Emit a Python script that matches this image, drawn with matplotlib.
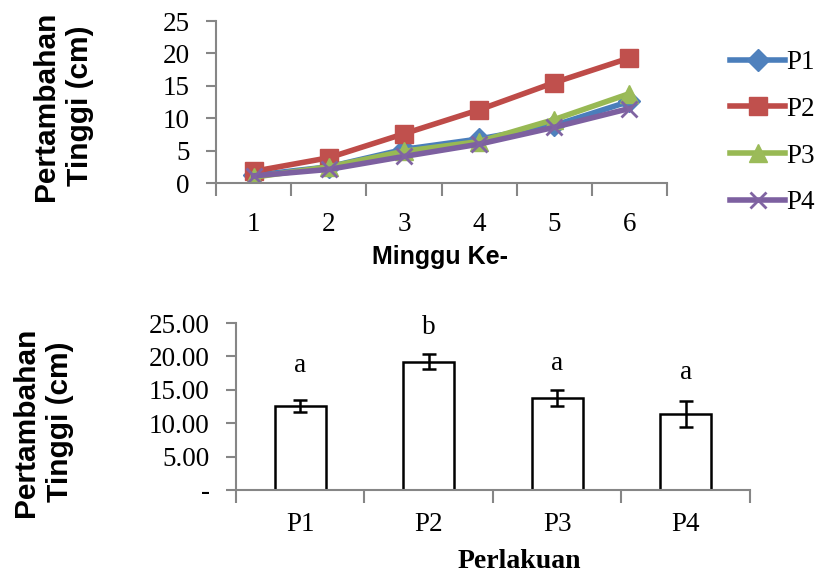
import matplotlib
matplotlib.use('Agg')
import matplotlib.pyplot as plt
from matplotlib.ticker import FuncFormatter
import numpy as np

# weekly growth (top chart)
weeks = [1, 2, 3, 4, 5, 6]
p1 = [1.2, 2.5, 5.2, 6.8, 8.9, 12.6]
p2 = [1.8, 3.9, 7.6, 11.3, 15.5, 19.3]
p3 = [0.9, 2.5, 4.9, 6.4, 9.8, 13.8]
p4 = [1.1, 2.1, 4.1, 6.0, 8.6, 11.5]

# final growth (bottom chart)
treatments = ['P1', 'P2', 'P3', 'P4']
means = [12.6, 19.2, 13.7, 11.4]
errs = [0.9, 1.1, 1.2, 1.9]
letters = ['a', 'b', 'a', 'a']

serif = 'Liberation Serif'
sans = 'Liberation Sans'
gray = '#868686'

fig = plt.figure(figsize=(8.22, 5.73), dpi=100)

# ---- top line chart
ax = fig.add_axes([0.2628, 0.6806, 0.5487, 0.2827])
series = [('P1', p1, '#4A7EBB', '#4F81BD', 'D', 11),
          ('P2', p2, '#BE4B48', '#C0504D', 's', 13),
          ('P3', p3, '#98B954', '#9BBB59', '^', 13),
          ('P4', p4, '#7D60A0', '#8064A2', 'x', 12)]
for name, vals, lc, mc, mk, ms in series:
    ax.plot(weeks, vals, color=lc, lw=4, marker=mk, ms=ms, mfc=mc, mec=mc,
            mew=2 if mk == 'x' else 1, label=name)

ax.set_xlim(0.5, 6.5)
ax.set_ylim(0, 25)
ax.set_yticks(np.arange(0, 26, 5))
ax.set_xticks(weeks)
ax.set_xticks(np.arange(0.5, 6.6, 1), minor=True)
ax.tick_params(axis='x', which='major', length=0, pad=21)
ax.tick_params(axis='x', which='minor', length=9, width=1.5, color=gray)
ax.tick_params(axis='y', length=7, width=1.5, color=gray, pad=12)
for lab in ax.get_xticklabels() + ax.get_yticklabels():
    lab.set_fontfamily(serif)
    lab.set_fontsize(19.5)
for s in ['top', 'right']:
    ax.spines[s].set_visible(False)
for s in ['left', 'bottom']:
    ax.spines[s].set_color(gray)
    ax.spines[s].set_linewidth(1.5)

leg = ax.legend(loc='upper left', bbox_to_anchor=(1.085, 0.97), frameon=False,
                prop={'family': serif, 'size': 19.5}, handlelength=2.05,
                labelspacing=0.8, handletextpad=0.05)

fig.text(440 / 822, 1 - 257 / 573, 'Minggu Ke-', family=sans, weight='bold',
         fontsize=18, ha='center', va='center')
fig.text(63 / 822, 1 - 106 / 573, 'Pertambahan\nTinggi (cm)', family=sans,
         weight='bold', fontsize=21.5, rotation=90, ha='center', va='center',
         multialignment='center', linespacing=1.25)

# ---- bottom bar chart
bx = fig.add_axes([0.2871, 0.1449, 0.6253, 0.2914])
x = np.arange(len(treatments))
bx.bar(x, means, width=0.4, color='white', edgecolor='black', lw=1.8)
bx.errorbar(x, means, yerr=errs, fmt='none', ecolor='black', elinewidth=1.8,
            capsize=5, capthick=1.8)
letter_y = [18.7, 24.4, 19.0, 17.6]
for xi, l, ly in zip(x, letters, letter_y):
    bx.text(xi, ly, l, family=serif, fontsize=19.5, ha='center', va='center')

bx.set_xlim(-0.5, len(treatments) - 0.5)
bx.set_ylim(0, 25)
bx.set_yticks(np.arange(0, 26, 5))
bx.yaxis.set_major_formatter(FuncFormatter(lambda v, p: '-' if v == 0 else '%.2f' % v))
bx.set_xticks(x)
bx.set_xticklabels(treatments)
bx.set_xticks(np.arange(-0.5, len(treatments), 1), minor=True)
bx.tick_params(axis='x', which='major', length=0, pad=16)
bx.tick_params(axis='x', which='minor', length=9, width=1.5, color=gray)
bx.tick_params(axis='y', length=7, width=1.5, color=gray, pad=12)
for lab in bx.get_xticklabels() + bx.get_yticklabels():
    lab.set_fontfamily(serif)
    lab.set_fontsize(19.5)
for s in ['top', 'right']:
    bx.spines[s].set_visible(False)
for s in ['left', 'bottom']:
    bx.spines[s].set_color(gray)
    bx.spines[s].set_linewidth(1.5)

fig.text(519 / 822, 1 - 561 / 573, 'Perlakuan', family=serif, weight='bold',
         fontsize=20, ha='center', va='center')
fig.text(43 / 822, 1 - 422 / 573, 'Pertambahan\nTinggi (cm)', family=sans,
         weight='bold', fontsize=21.5, rotation=90, ha='center', va='center',
         multialignment='center', linespacing=1.25)

fig.savefig('out.png', dpi=100)
